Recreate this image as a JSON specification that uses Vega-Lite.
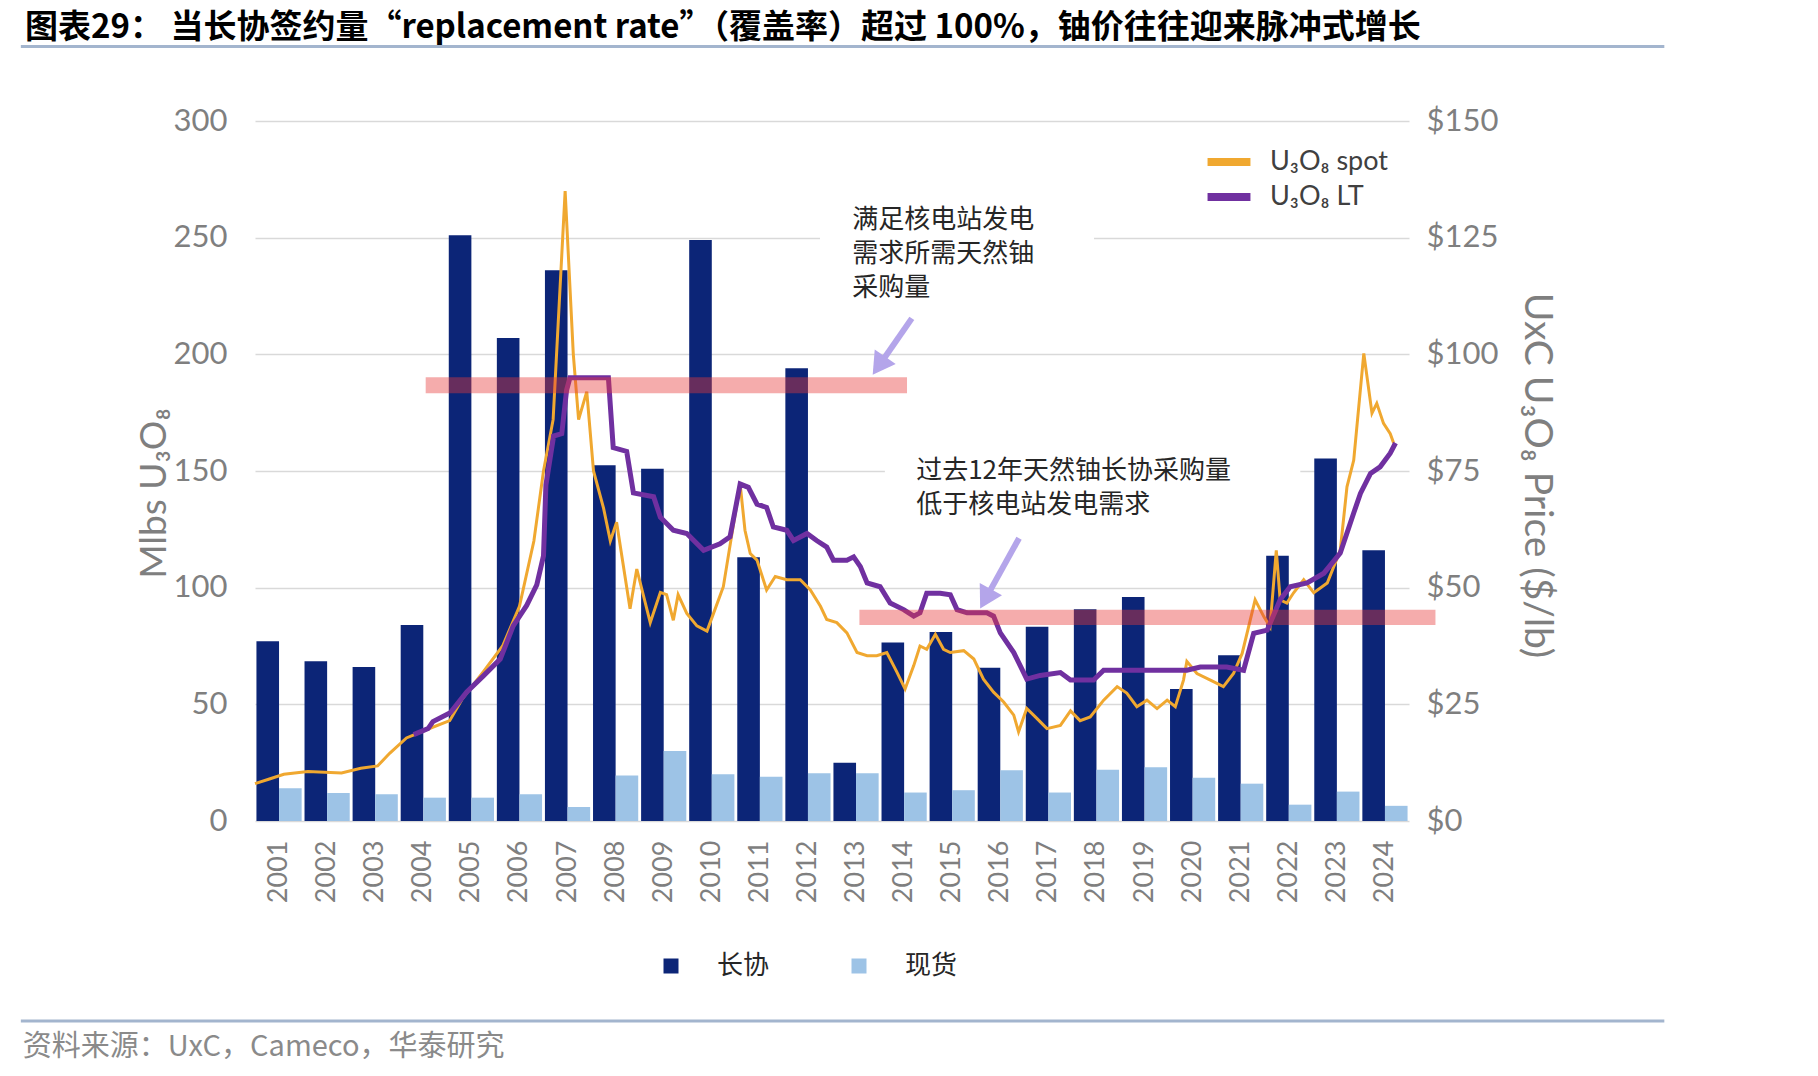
{
  "$schema": "https://vega.github.io/schema/vega-lite/v6.json",
  "width": 1154,
  "height": 700,
  "autosize": {"type": "none"},
  "padding": {"left": 255, "top": 121, "right": 409, "bottom": 255},
  "background": "white",
  "config": {
    "view": {"stroke": null},
    "font": "Lato",
    "axis": {"labelFont": "Lato", "titleFont": "Lato"}
  },
  "title": {
    "text": "图表29：  当长协签约量“replacement rate”（覆盖率）超过 100%，铀价往往迎来脉冲式增长",
    "anchor": "start",
    "frame": "group",
    "dx": -230,
    "offset": 0,
    "font": "Noto Sans CJK SC",
    "fontSize": 33,
    "fontWeight": "bold",
    "color": "#000000"
  },
  "datasets": {
    "bars": [
      {"year": "2001", "type": "长协", "v": 77}, {"year": "2001", "type": "现货", "v": 14},
      {"year": "2002", "type": "长协", "v": 68.5}, {"year": "2002", "type": "现货", "v": 12},
      {"year": "2003", "type": "长协", "v": 66}, {"year": "2003", "type": "现货", "v": 11.5},
      {"year": "2004", "type": "长协", "v": 84}, {"year": "2004", "type": "现货", "v": 10},
      {"year": "2005", "type": "长协", "v": 251}, {"year": "2005", "type": "现货", "v": 10},
      {"year": "2006", "type": "长协", "v": 207}, {"year": "2006", "type": "现货", "v": 11.5},
      {"year": "2007", "type": "长协", "v": 236}, {"year": "2007", "type": "现货", "v": 6},
      {"year": "2008", "type": "长协", "v": 152.5}, {"year": "2008", "type": "现货", "v": 19.5},
      {"year": "2009", "type": "长协", "v": 151}, {"year": "2009", "type": "现货", "v": 30},
      {"year": "2010", "type": "长协", "v": 249}, {"year": "2010", "type": "现货", "v": 20},
      {"year": "2011", "type": "长协", "v": 113}, {"year": "2011", "type": "现货", "v": 19},
      {"year": "2012", "type": "长协", "v": 194}, {"year": "2012", "type": "现货", "v": 20.5},
      {"year": "2013", "type": "长协", "v": 25}, {"year": "2013", "type": "现货", "v": 20.5},
      {"year": "2014", "type": "长协", "v": 76.5}, {"year": "2014", "type": "现货", "v": 12.2},
      {"year": "2015", "type": "长协", "v": 81}, {"year": "2015", "type": "现货", "v": 13.2},
      {"year": "2016", "type": "长协", "v": 65.7}, {"year": "2016", "type": "现货", "v": 21.7},
      {"year": "2017", "type": "长协", "v": 83.3}, {"year": "2017", "type": "现货", "v": 12.2},
      {"year": "2018", "type": "长协", "v": 90.7}, {"year": "2018", "type": "现货", "v": 22},
      {"year": "2019", "type": "长协", "v": 96}, {"year": "2019", "type": "现货", "v": 23},
      {"year": "2020", "type": "长协", "v": 56.6}, {"year": "2020", "type": "现货", "v": 18.5},
      {"year": "2021", "type": "长协", "v": 71}, {"year": "2021", "type": "现货", "v": 16},
      {"year": "2022", "type": "长协", "v": 113.7}, {"year": "2022", "type": "现货", "v": 7},
      {"year": "2023", "type": "长协", "v": 155.4}, {"year": "2023", "type": "现货", "v": 12.6},
      {"year": "2024", "type": "长协", "v": 116}, {"year": "2024", "type": "现货", "v": 6.5}
    ],
    "prices": [
      {"t": 2001.0, "s": "U₃O₈ spot", "p": 8.0}, {"t": 2001.3, "s": "U₃O₈ spot", "p": 9.0}, {"t": 2001.6, "s": "U₃O₈ spot", "p": 10.0},
      {"t": 2002.1, "s": "U₃O₈ spot", "p": 10.6}, {"t": 2002.8, "s": "U₃O₈ spot", "p": 10.3}, {"t": 2003.2, "s": "U₃O₈ spot", "p": 11.3},
      {"t": 2003.55, "s": "U₃O₈ spot", "p": 11.8}, {"t": 2003.8, "s": "U₃O₈ spot", "p": 14.5}, {"t": 2004.15, "s": "U₃O₈ spot", "p": 17.8},
      {"t": 2004.55, "s": "U₃O₈ spot", "p": 19.5}, {"t": 2005.05, "s": "U₃O₈ spot", "p": 21.5}, {"t": 2005.3, "s": "U₃O₈ spot", "p": 26},
      {"t": 2005.75, "s": "U₃O₈ spot", "p": 32}, {"t": 2006.15, "s": "U₃O₈ spot", "p": 37.5}, {"t": 2006.5, "s": "U₃O₈ spot", "p": 46},
      {"t": 2006.8, "s": "U₃O₈ spot", "p": 60}, {"t": 2007.0, "s": "U₃O₈ spot", "p": 75}, {"t": 2007.2, "s": "U₃O₈ spot", "p": 86},
      {"t": 2007.45, "s": "U₃O₈ spot", "p": 135}, {"t": 2007.62, "s": "U₃O₈ spot", "p": 100}, {"t": 2007.73, "s": "U₃O₈ spot", "p": 86},
      {"t": 2007.9, "s": "U₃O₈ spot", "p": 92}, {"t": 2008.04, "s": "U₃O₈ spot", "p": 75}, {"t": 2008.25, "s": "U₃O₈ spot", "p": 67},
      {"t": 2008.39, "s": "U₃O₈ spot", "p": 60}, {"t": 2008.52, "s": "U₃O₈ spot", "p": 64}, {"t": 2008.8, "s": "U₃O₈ spot", "p": 45.5},
      {"t": 2008.94, "s": "U₃O₈ spot", "p": 54}, {"t": 2009.22, "s": "U₃O₈ spot", "p": 42.5}, {"t": 2009.43, "s": "U₃O₈ spot", "p": 49},
      {"t": 2009.56, "s": "U₃O₈ spot", "p": 48.5}, {"t": 2009.7, "s": "U₃O₈ spot", "p": 43}, {"t": 2009.8, "s": "U₃O₈ spot", "p": 48.5},
      {"t": 2009.98, "s": "U₃O₈ spot", "p": 44.5}, {"t": 2010.19, "s": "U₃O₈ spot", "p": 41.8}, {"t": 2010.4, "s": "U₃O₈ spot", "p": 40.7},
      {"t": 2010.54, "s": "U₃O₈ spot", "p": 44.6}, {"t": 2010.74, "s": "U₃O₈ spot", "p": 50.2}, {"t": 2010.92, "s": "U₃O₈ spot", "p": 61.6},
      {"t": 2011.09, "s": "U₃O₈ spot", "p": 72.2}, {"t": 2011.19, "s": "U₃O₈ spot", "p": 62.3}, {"t": 2011.3, "s": "U₃O₈ spot", "p": 57.3},
      {"t": 2011.44, "s": "U₃O₈ spot", "p": 55.9}, {"t": 2011.64, "s": "U₃O₈ spot", "p": 49.5}, {"t": 2011.82, "s": "U₃O₈ spot", "p": 52.4},
      {"t": 2012.06, "s": "U₃O₈ spot", "p": 51.7}, {"t": 2012.34, "s": "U₃O₈ spot", "p": 51.7}, {"t": 2012.55, "s": "U₃O₈ spot", "p": 49.5},
      {"t": 2012.76, "s": "U₃O₈ spot", "p": 46}, {"t": 2012.89, "s": "U₃O₈ spot", "p": 43.2}, {"t": 2013.1, "s": "U₃O₈ spot", "p": 42.5},
      {"t": 2013.31, "s": "U₃O₈ spot", "p": 40.3}, {"t": 2013.52, "s": "U₃O₈ spot", "p": 36.1}, {"t": 2013.73, "s": "U₃O₈ spot", "p": 35.4},
      {"t": 2013.93, "s": "U₃O₈ spot", "p": 35.4}, {"t": 2014.14, "s": "U₃O₈ spot", "p": 36.1}, {"t": 2014.35, "s": "U₃O₈ spot", "p": 31.9},
      {"t": 2014.52, "s": "U₃O₈ spot", "p": 28.3}, {"t": 2014.7, "s": "U₃O₈ spot", "p": 33.3}, {"t": 2014.83, "s": "U₃O₈ spot", "p": 37.5},
      {"t": 2014.97, "s": "U₃O₈ spot", "p": 36.8}, {"t": 2015.15, "s": "U₃O₈ spot", "p": 40}, {"t": 2015.32, "s": "U₃O₈ spot", "p": 36.8},
      {"t": 2015.46, "s": "U₃O₈ spot", "p": 36.1}, {"t": 2015.74, "s": "U₃O₈ spot", "p": 36.5}, {"t": 2015.95, "s": "U₃O₈ spot", "p": 34.7},
      {"t": 2016.15, "s": "U₃O₈ spot", "p": 30.4}, {"t": 2016.36, "s": "U₃O₈ spot", "p": 27.6}, {"t": 2016.57, "s": "U₃O₈ spot", "p": 25.5},
      {"t": 2016.78, "s": "U₃O₈ spot", "p": 22.7}, {"t": 2016.88, "s": "U₃O₈ spot", "p": 19.1}, {"t": 2017.05, "s": "U₃O₈ spot", "p": 24.1},
      {"t": 2017.26, "s": "U₃O₈ spot", "p": 22}, {"t": 2017.47, "s": "U₃O₈ spot", "p": 19.8}, {"t": 2017.75, "s": "U₃O₈ spot", "p": 20.5},
      {"t": 2017.96, "s": "U₃O₈ spot", "p": 23.6}, {"t": 2018.16, "s": "U₃O₈ spot", "p": 21.5}, {"t": 2018.37, "s": "U₃O₈ spot", "p": 22.3},
      {"t": 2018.65, "s": "U₃O₈ spot", "p": 25.9}, {"t": 2018.93, "s": "U₃O₈ spot", "p": 28.8}, {"t": 2019.13, "s": "U₃O₈ spot", "p": 27.4},
      {"t": 2019.34, "s": "U₃O₈ spot", "p": 24.5}, {"t": 2019.55, "s": "U₃O₈ spot", "p": 25.9}, {"t": 2019.76, "s": "U₃O₈ spot", "p": 24.1},
      {"t": 2019.97, "s": "U₃O₈ spot", "p": 25.9}, {"t": 2020.14, "s": "U₃O₈ spot", "p": 24.5}, {"t": 2020.31, "s": "U₃O₈ spot", "p": 30.2},
      {"t": 2020.38, "s": "U₃O₈ spot", "p": 34.2}, {"t": 2020.59, "s": "U₃O₈ spot", "p": 31.6}, {"t": 2020.87, "s": "U₃O₈ spot", "p": 30.2},
      {"t": 2021.14, "s": "U₃O₈ spot", "p": 28.8}, {"t": 2021.35, "s": "U₃O₈ spot", "p": 31.6}, {"t": 2021.53, "s": "U₃O₈ spot", "p": 35.9},
      {"t": 2021.8, "s": "U₃O₈ spot", "p": 47.4}, {"t": 2021.98, "s": "U₃O₈ spot", "p": 43.8}, {"t": 2022.11, "s": "U₃O₈ spot", "p": 41.6},
      {"t": 2022.24, "s": "U₃O₈ spot", "p": 58}, {"t": 2022.32, "s": "U₃O₈ spot", "p": 47.4}, {"t": 2022.46, "s": "U₃O₈ spot", "p": 46.7},
      {"t": 2022.6, "s": "U₃O₈ spot", "p": 48.9}, {"t": 2022.81, "s": "U₃O₈ spot", "p": 51.7}, {"t": 2023.02, "s": "U₃O₈ spot", "p": 48.9},
      {"t": 2023.3, "s": "U₃O₈ spot", "p": 51}, {"t": 2023.57, "s": "U₃O₈ spot", "p": 58}, {"t": 2023.71, "s": "U₃O₈ spot", "p": 71.6},
      {"t": 2023.85, "s": "U₃O₈ spot", "p": 77.3}, {"t": 2024.06, "s": "U₃O₈ spot", "p": 100.2}, {"t": 2024.23, "s": "U₃O₈ spot", "p": 87.4},
      {"t": 2024.33, "s": "U₃O₈ spot", "p": 89.5}, {"t": 2024.47, "s": "U₃O₈ spot", "p": 85.2}, {"t": 2024.61, "s": "U₃O₈ spot", "p": 83},
      {"t": 2024.68, "s": "U₃O₈ spot", "p": 81},
      {"t": 2004.3, "s": "U₃O₈ LT", "p": 18.5}, {"t": 2004.6, "s": "U₃O₈ LT", "p": 19.8}, {"t": 2004.7, "s": "U₃O₈ LT", "p": 21.3},
      {"t": 2005.06, "s": "U₃O₈ LT", "p": 23.2}, {"t": 2005.4, "s": "U₃O₈ LT", "p": 27.6}, {"t": 2005.75, "s": "U₃O₈ LT", "p": 31.1},
      {"t": 2006.1, "s": "U₃O₈ LT", "p": 34.7}, {"t": 2006.37, "s": "U₃O₈ LT", "p": 41.8}, {"t": 2006.65, "s": "U₃O₈ LT", "p": 46.2},
      {"t": 2006.86, "s": "U₃O₈ LT", "p": 50.6}, {"t": 2007.0, "s": "U₃O₈ LT", "p": 56.8}, {"t": 2007.05, "s": "U₃O₈ LT", "p": 72},
      {"t": 2007.21, "s": "U₃O₈ LT", "p": 82.5}, {"t": 2007.38, "s": "U₃O₈ LT", "p": 83}, {"t": 2007.48, "s": "U₃O₈ LT", "p": 92.3},
      {"t": 2007.55, "s": "U₃O₈ LT", "p": 95}, {"t": 2008.35, "s": "U₃O₈ LT", "p": 95}, {"t": 2008.45, "s": "U₃O₈ LT", "p": 80},
      {"t": 2008.73, "s": "U₃O₈ LT", "p": 79.2}, {"t": 2008.87, "s": "U₃O₈ LT", "p": 70.3}, {"t": 2009.29, "s": "U₃O₈ LT", "p": 69.5},
      {"t": 2009.43, "s": "U₃O₈ LT", "p": 65.1}, {"t": 2009.7, "s": "U₃O₈ LT", "p": 62.3}, {"t": 2009.98, "s": "U₃O₈ LT", "p": 61.6},
      {"t": 2010.33, "s": "U₃O₈ LT", "p": 58}, {"t": 2010.67, "s": "U₃O₈ LT", "p": 59.4}, {"t": 2010.88, "s": "U₃O₈ LT", "p": 60.9},
      {"t": 2011.09, "s": "U₃O₈ LT", "p": 72.2}, {"t": 2011.26, "s": "U₃O₈ LT", "p": 71.5}, {"t": 2011.44, "s": "U₃O₈ LT", "p": 67.9},
      {"t": 2011.64, "s": "U₃O₈ LT", "p": 67.2}, {"t": 2011.78, "s": "U₃O₈ LT", "p": 63}, {"t": 2012.06, "s": "U₃O₈ LT", "p": 62.3},
      {"t": 2012.2, "s": "U₃O₈ LT", "p": 60.1}, {"t": 2012.48, "s": "U₃O₈ LT", "p": 61.6}, {"t": 2012.68, "s": "U₃O₈ LT", "p": 60.1},
      {"t": 2012.89, "s": "U₃O₈ LT", "p": 58.7}, {"t": 2013.03, "s": "U₃O₈ LT", "p": 55.9}, {"t": 2013.31, "s": "U₃O₈ LT", "p": 55.9},
      {"t": 2013.45, "s": "U₃O₈ LT", "p": 56.6}, {"t": 2013.59, "s": "U₃O₈ LT", "p": 54.5}, {"t": 2013.73, "s": "U₃O₈ LT", "p": 51},
      {"t": 2014.0, "s": "U₃O₈ LT", "p": 50.2}, {"t": 2014.21, "s": "U₃O₈ LT", "p": 46.7}, {"t": 2014.49, "s": "U₃O₈ LT", "p": 45.3},
      {"t": 2014.7, "s": "U₃O₈ LT", "p": 43.9}, {"t": 2014.83, "s": "U₃O₈ LT", "p": 44.6}, {"t": 2014.97, "s": "U₃O₈ LT", "p": 48.8},
      {"t": 2015.25, "s": "U₃O₈ LT", "p": 48.8}, {"t": 2015.46, "s": "U₃O₈ LT", "p": 48.5}, {"t": 2015.6, "s": "U₃O₈ LT", "p": 45.3},
      {"t": 2015.81, "s": "U₃O₈ LT", "p": 44.6}, {"t": 2016.22, "s": "U₃O₈ LT", "p": 44.6}, {"t": 2016.36, "s": "U₃O₈ LT", "p": 43.9},
      {"t": 2016.5, "s": "U₃O₈ LT", "p": 40.3}, {"t": 2016.78, "s": "U₃O₈ LT", "p": 36.1}, {"t": 2016.98, "s": "U₃O₈ LT", "p": 31.9},
      {"t": 2017.05, "s": "U₃O₈ LT", "p": 30.4}, {"t": 2017.33, "s": "U₃O₈ LT", "p": 31.2}, {"t": 2017.75, "s": "U₃O₈ LT", "p": 31.8},
      {"t": 2017.96, "s": "U₃O₈ LT", "p": 30.2}, {"t": 2018.44, "s": "U₃O₈ LT", "p": 30.2}, {"t": 2018.65, "s": "U₃O₈ LT", "p": 32.3},
      {"t": 2019.69, "s": "U₃O₈ LT", "p": 32.3}, {"t": 2020.38, "s": "U₃O₈ LT", "p": 32.3}, {"t": 2020.66, "s": "U₃O₈ LT", "p": 33},
      {"t": 2021.21, "s": "U₃O₈ LT", "p": 33}, {"t": 2021.56, "s": "U₃O₈ LT", "p": 32.3}, {"t": 2021.77, "s": "U₃O₈ LT", "p": 40.2},
      {"t": 2022.05, "s": "U₃O₈ LT", "p": 40.9}, {"t": 2022.32, "s": "U₃O₈ LT", "p": 47.4}, {"t": 2022.53, "s": "U₃O₈ LT", "p": 50.2},
      {"t": 2022.88, "s": "U₃O₈ LT", "p": 51}, {"t": 2023.23, "s": "U₃O₈ LT", "p": 53.1}, {"t": 2023.57, "s": "U₃O₈ LT", "p": 57.4},
      {"t": 2023.85, "s": "U₃O₈ LT", "p": 66}, {"t": 2023.99, "s": "U₃O₈ LT", "p": 70.2}, {"t": 2024.2, "s": "U₃O₈ LT", "p": 74.5},
      {"t": 2024.4, "s": "U₃O₈ LT", "p": 75.9}, {"t": 2024.61, "s": "U₃O₈ LT", "p": 78.8}, {"t": 2024.72, "s": "U₃O₈ LT", "p": 81}
    ]
  },
  "layer": [
    {
      "data": {"name": "bars"},
      "mark": {"type": "bar"},
      "encoding": {
        "x": {
          "field": "year", "type": "ordinal",
          "scale": {"paddingInner": 0.06, "paddingOuter": 0.03},
          "axis": {"title": null, "labelAngle": 270, "labelFontSize": 27, "labelColor": "#7f7f7f", "labelPadding": 19, "ticks": false, "tickSize": 0, "domain": false, "grid": false}
        },
        "xOffset": {"field": "type", "type": "nominal", "sort": ["长协", "现货"], "scale": {"paddingInner": 0, "paddingOuter": 0}},
        "y": {
          "field": "v", "type": "quantitative",
          "scale": {"domain": [0, 300], "nice": false},
          "axis": {
            "title": "Mlbs U₃O₈", "titleFontSize": 37, "titleFontWeight": "normal", "titleColor": "#7f7f7f",
            "titleAngle": 270, "titleX": -101, "titleY": 372, "titleAlign": "center", "titleBaseline": "middle",
            "values": [0, 50, 100, 150, 200, 250, 300],
            "labelFontSize": 31, "labelColor": "#7f7f7f", "labelPadding": 28,
            "ticks": false, "tickSize": 0, "domain": false,
            "grid": true, "gridColor": "#d9d9d9", "gridWidth": 1.5
          }
        },
        "color": {
          "field": "type", "type": "nominal",
          "scale": {"domain": ["长协", "现货"], "range": ["#0C2577", "#9DC3E6"]},
          "legend": {
            "orient": "none", "legendX": 403, "legendY": 832, "direction": "horizontal", "title": null,
            "symbolType": "square", "symbolSize": 225, "symbolStrokeWidth": 0,
            "labelFont": "Noto Sans CJK SC", "labelFontSize": 26, "labelColor": "#262626",
            "labelOffset": 33, "columnPadding": 76, "padding": 0
          }
        }
      }
    },
    {
      "data": {"name": "prices"},
      "transform": [{"filter": "datum.s === 'U₃O₈ spot'"}],
      "mark": {"type": "line", "strokeWidth": 3},
      "encoding": {
        "x": {"field": "t", "type": "quantitative", "scale": {"domain": [2001, 2025], "nice": false, "zero": false}, "axis": null},
        "y": {
          "field": "p", "type": "quantitative",
          "scale": {"domain": [0, 150], "nice": false},
          "axis": {
            "orient": "right", "title": "UxC U₃O₈ Price ($/lb)", "titleFontSize": 39, "titleFontWeight": "normal", "titleColor": "#7f7f7f",
            "titleAngle": 90, "titleX": 127, "titleY": 354, "titleAlign": "center", "titleBaseline": "middle",
            "values": [0, 25, 50, 75, 100, 125, 150], "labelExpr": "'$' + datum.label",
            "labelFontSize": 31, "labelColor": "#7f7f7f", "labelPadding": 17,
            "ticks": false, "tickSize": 0, "domain": false, "grid": false
          }
        },
        "stroke": {
          "field": "s", "type": "nominal",
          "scale": {"domain": ["U₃O₈ spot", "U₃O₈ LT"], "range": ["#F0A830", "#7030A0"]},
          "legend": {
            "orient": "none", "legendX": 955, "legendY": 22, "title": null,
            "symbolType": "M-1.43,0H1.43", "symbolSize": 900, "symbolStrokeWidth": 8,
            "labelFont": "Lato", "labelFontSize": 27, "labelColor": "#404040",
            "labelOffset": 22, "rowPadding": 0, "padding": 0
          }
        }
      }
    },
    {
      "data": {"name": "prices"},
      "transform": [{"filter": "datum.s === 'U₃O₈ LT'"}],
      "mark": {"type": "line", "strokeWidth": 5},
      "encoding": {
        "x": {"field": "t", "type": "quantitative", "scale": {"domain": [2001, 2025], "nice": false, "zero": false}, "axis": null},
        "y": {"field": "p", "type": "quantitative", "scale": {"domain": [0, 150], "nice": false}, "axis": null},
        "stroke": {"field": "s", "type": "nominal", "scale": {"domain": ["U₃O₈ spot", "U₃O₈ LT"], "range": ["#F0A830", "#7030A0"]}}
      }
    },
    {
      "data": {"values": [{}]},
      "mark": {"type": "rect", "fill": "white", "strokeWidth": 0},
      "encoding": {
        "x": {"datum": 2012.75, "type": "quantitative", "scale": {"domain": [2001, 2025], "nice": false, "zero": false}, "axis": null},
        "x2": {"datum": 2018.45},
        "y": {"datum": 111.5, "type": "quantitative", "scale": {"domain": [0, 150], "nice": false}, "axis": null},
        "y2": {"datum": 133}
      }
    },
    {
      "data": {"values": [{}]},
      "mark": {"type": "rect", "fill": "white", "strokeWidth": 0},
      "encoding": {
        "x": {"datum": 2014.1, "type": "quantitative", "scale": {"domain": [2001, 2025], "nice": false, "zero": false}, "axis": null},
        "x2": {"datum": 2022.74},
        "y": {"datum": 64.4, "type": "quantitative", "scale": {"domain": [0, 150], "nice": false}, "axis": null},
        "y2": {"datum": 78.4}
      }
    },
    {
      "data": {"values": [{}]},
      "mark": {"type": "rect", "fill": "#E63A3A", "opacity": 0.42, "strokeWidth": 0},
      "encoding": {
        "x": {"datum": 2004.55, "type": "quantitative", "scale": {"domain": [2001, 2025], "nice": false, "zero": false}, "axis": null},
        "x2": {"datum": 2014.56},
        "y": {"datum": 91.65, "type": "quantitative", "scale": {"domain": [0, 150], "nice": false}, "axis": null},
        "y2": {"datum": 95.1}
      }
    },
    {
      "data": {"values": [{}]},
      "mark": {"type": "rect", "fill": "#E63A3A", "opacity": 0.42, "strokeWidth": 0},
      "encoding": {
        "x": {"datum": 2013.57, "type": "quantitative", "scale": {"domain": [2001, 2025], "nice": false, "zero": false}, "axis": null},
        "x2": {"datum": 2025.55},
        "y": {"datum": 42, "type": "quantitative", "scale": {"domain": [0, 150], "nice": false}, "axis": null},
        "y2": {"datum": 45.25}
      }
    },
    {
      "data": {"values": [{}]},
      "mark": {"type": "rule", "stroke": "#B4A5EA", "strokeWidth": 6},
      "encoding": {
        "x": {"datum": 2014.66, "type": "quantitative", "scale": {"domain": [2001, 2025], "nice": false, "zero": false}, "axis": null},
        "x2": {"datum": 2014.02},
        "y": {"datum": 107.7, "type": "quantitative", "scale": {"domain": [0, 150], "nice": false}, "axis": null},
        "y2": {"datum": 98.2}
      }
    },
    {
      "data": {"values": [{}]},
      "mark": {"type": "point", "shape": "triangle", "filled": true, "fill": "#B4A5EA", "opacity": 1, "size": 650, "angle": 214.6, "strokeWidth": 0},
      "encoding": {
        "x": {"datum": 2014.02, "type": "quantitative", "scale": {"domain": [2001, 2025], "nice": false, "zero": false}, "axis": null},
        "y": {"datum": 98.2, "type": "quantitative", "scale": {"domain": [0, 150], "nice": false}, "axis": null}
      }
    },
    {
      "data": {"values": [{}]},
      "mark": {"type": "rule", "stroke": "#B4A5EA", "strokeWidth": 6},
      "encoding": {
        "x": {"datum": 2016.89, "type": "quantitative", "scale": {"domain": [2001, 2025], "nice": false, "zero": false}, "axis": null},
        "x2": {"datum": 2016.23},
        "y": {"datum": 60.6, "type": "quantitative", "scale": {"domain": [0, 150], "nice": false}, "axis": null},
        "y2": {"datum": 48.3}
      }
    },
    {
      "data": {"values": [{}]},
      "mark": {"type": "point", "shape": "triangle", "filled": true, "fill": "#B4A5EA", "opacity": 1, "size": 650, "angle": 209, "strokeWidth": 0},
      "encoding": {
        "x": {"datum": 2016.23, "type": "quantitative", "scale": {"domain": [2001, 2025], "nice": false, "zero": false}, "axis": null},
        "y": {"datum": 48.3, "type": "quantitative", "scale": {"domain": [0, 150], "nice": false}, "axis": null}
      }
    },
    {
      "data": {"values": [{}]},
      "mark": {"type": "text", "align": "left", "baseline": "top", "font": "Noto Sans CJK SC", "fontSize": 26, "lineHeight": 34, "color": "#262626"},
      "encoding": {
        "x": {"datum": 2013.42, "type": "quantitative", "scale": {"domain": [2001, 2025], "nice": false, "zero": false}, "axis": null},
        "y": {"datum": 131.6, "type": "quantitative", "scale": {"domain": [0, 150], "nice": false}, "axis": null},
        "text": {"value": ["满足核电站发电", "需求所需天然铀", "采购量"]}
      }
    },
    {
      "data": {"values": [{}]},
      "mark": {"type": "text", "align": "left", "baseline": "top", "font": "Noto Sans CJK SC", "fontSize": 26, "lineHeight": 34, "color": "#262626"},
      "encoding": {
        "x": {"datum": 2014.75, "type": "quantitative", "scale": {"domain": [2001, 2025], "nice": false, "zero": false}, "axis": null},
        "y": {"datum": 77.8, "type": "quantitative", "scale": {"domain": [0, 150], "nice": false}, "axis": null},
        "text": {"value": ["过去12年天然铀长协采购量", "低于核电站发电需求"]}
      }
    },
    {
      "data": {"values": [{}]},
      "mark": {"type": "rule", "stroke": "#A3B5CE", "strokeWidth": 3},
      "encoding": {
        "x": {"datum": 1996.13, "type": "quantitative", "scale": {"domain": [2001, 2025], "nice": false, "zero": false}, "axis": null},
        "x2": {"datum": 2030.31},
        "y": {"datum": 165.96, "type": "quantitative", "scale": {"domain": [0, 150], "nice": false}, "axis": null}
      }
    },
    {
      "data": {"values": [{}]},
      "mark": {"type": "rule", "stroke": "#A3B5CE", "strokeWidth": 3},
      "encoding": {
        "x": {"datum": 1996.13, "type": "quantitative", "scale": {"domain": [2001, 2025], "nice": false, "zero": false}, "axis": null},
        "x2": {"datum": 2030.31},
        "y": {"datum": -42.86, "type": "quantitative", "scale": {"domain": [0, 150], "nice": false}, "axis": null}
      }
    },
    {
      "data": {"values": [{}]},
      "mark": {"type": "text", "align": "left", "baseline": "middle", "font": "Noto Sans CJK SC", "fontSize": 29, "color": "#8a8a8a"},
      "encoding": {
        "x": {"datum": 1996.17, "type": "quantitative", "scale": {"domain": [2001, 2025], "nice": false, "zero": false}, "axis": null},
        "y": {"datum": -48.4, "type": "quantitative", "scale": {"domain": [0, 150], "nice": false}, "axis": null},
        "text": {"value": "资料来源：UxC，Cameco，华泰研究"}
      }
    }
  ],
  "resolve": {
    "scale": {"x": "independent", "y": "independent"},
    "axis": {"x": "independent", "y": "independent"}
  }
}
